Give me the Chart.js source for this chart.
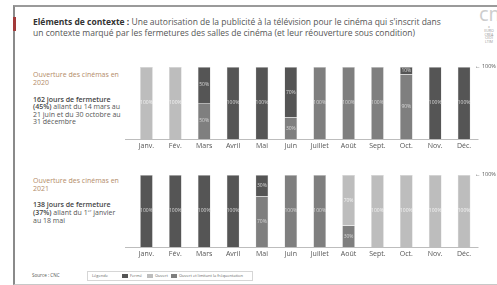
<!DOCTYPE html>
<html>
<head>
<meta charset="utf-8">
<script src="https://cdn.jsdelivr.net/npm/chart.js@4"></script>
<style>
  body { margin: 0; background: #fff; font-family: "Open Sans", sans-serif; }
  #page { position: relative; width: 497px; height: 285px; overflow: hidden; }
  .frame { position: absolute; left: 13px; top: 5px; width: 490px; height: 277px;
           border-left: 2px solid #8a8a8a; border-top: 2px solid #9a9a9a; border-bottom: 1px solid #c8c8c8; }
  .redmark { position: absolute; left: 13px; top: 17px; width: 3px; height: 14px; background: #a33a3a; }
  .title { position: absolute; left: 33px; top: 16px; width: 414px; font-size: 8.5px; line-height: 11px; color: #555; }
  .title b { color: #333; }
  .side { position: absolute; left: 33px; width: 110px; font-size: 7px; color: #555; white-space: nowrap; }
  .tan { color: #b38c68; }
  .side b { color: #444; font-weight: 600; }
  .wrap { position: absolute; }
  .mark { position: absolute; left: 475px; font-size: 5.5px; color: #555; white-space: nowrap; }
  .logo { position: absolute; left: 479px; top: 3px; color: #cdcdcd; font-size: 20px; line-height: 22px; }
  .logo small { position: absolute; left: 1px; top: 22px; width: 18px; font-size: 3.6px; line-height: 3.8px; color: #999; text-align: center; }
  .source { position: absolute; left: 32px; top: 272px; font-size: 4.6px; color: #555; }
  .legend { position: absolute; left: 87px; top: 271px; width: 164px; height: 8px; border: 1px solid #d6d6d6; }
  .legend span { position: absolute; top: 0; font-size: 4px; line-height: 8px; color: #666; white-space: nowrap; }
  .legend i { position: absolute; top: 2px; width: 6px; height: 4px; }
</style>
</head>
<body>
<div id="page">
  <div class="frame"></div>
  <div class="redmark"></div>
  <div class="title"><b>Eléments de contexte :</b> Une autorisation de la publicité à la télévision pour le cinéma qui s'inscrit dans un contexte marqué par les fermetures des salles de cinéma (et leur réouverture sous condition)</div>
  <div class="logo">cm<small>x<br>EURO<br>CRÉA<br>CÉDI<br>LTIM</small></div>

  <div class="side tan" style="top:71px;line-height:8px">Ouverture des cinémas en<br>2020</div>
  <div class="side" style="top:95.5px;line-height:7.6px"><b>162 jours de fermeture<br>(45%)</b> allant du 14 mars au<br>21 juin et du 30 octobre au<br>31 décembre</div>
  <div class="side tan" style="top:176.5px;line-height:8.6px">Ouverture des cinémas en<br>2021</div>
  <div class="side" style="top:201px;line-height:8px"><b>138 jours de fermeture<br>(37%)</b> allant du 1<sup style="font-size:4px;line-height:0">er</sup> janvier<br>au 18 mai</div>

  <div class="wrap" style="left:120px;top:60px;width:365px;height:94px"><canvas id="c2020"></canvas></div>
  <div class="wrap" style="left:120px;top:168px;width:365px;height:94px"><canvas id="c2021"></canvas></div>
  <div class="mark" style="top:62px">&larr; 100%</div>
  <div class="mark" style="top:170px">&larr; 100%</div>

  <div class="source">Source : CNC</div>
  <div class="legend">
    <span style="left:4px">Légende</span>
    <i style="left:34px;background:#555"></i><span style="left:42px">Fermé</span>
    <i style="left:59px;background:#bdbdbd"></i><span style="left:67px">Ouvert</span>
    <i style="left:83px;background:#7f7f7f"></i><span style="left:91px">Ouvert et limitant la fréquentation</span>
  </div>
</div>

<script>
const months = ['Janv.', 'Fév.', 'Mars', 'Avril', 'Mai', 'Juin', 'Juillet', 'Août', 'Sept.', 'Oct.', 'Nov.', 'Déc.'];

// part du mois (%) selon le statut des salles, 2020
const limite2020 = [0, 0, 50, 0, 0, 30, 100, 100, 100, 90, 0, 0];
const ferme2020  = [0, 0, 50, 100, 100, 70, 0, 0, 0, 10, 100, 100];
const ouvert2020 = [100, 100, 0, 0, 0, 0, 0, 0, 0, 0, 0, 0];

// 2021
const limite2021 = [0, 0, 0, 0, 70, 100, 100, 30, 0, 0, 0, 0];
const ferme2021  = [100, 100, 100, 100, 30, 0, 0, 0, 0, 0, 0, 0];
const ouvert2021 = [0, 0, 0, 0, 0, 0, 0, 70, 100, 100, 100, 100];

const colLimite = '#7f7f7f';
const colFerme = '#555555';
const colOuvert = '#bdbdbd';

// ecrit les % au milieu de chaque segment
const segLabels = {
    id: 'segLabels',
    afterDatasetsDraw(chart) {
        const c = chart.ctx;
        c.save();
        c.font = '5px "Open Sans"';
        c.textAlign = 'center';
        c.textBaseline = 'middle';
        chart.data.datasets.forEach((ds, i) => {
            c.fillStyle = i == 2 ? '#f4f4f4' : '#d8d8d8';
            chart.getDatasetMeta(i).data.forEach((bar, j) => {
                const v = ds.data[j];
                if (!v) return;
                c.fillText(v + '%', bar.x, (bar.y + bar.base) / 2);
            });
        });
        c.restore();
    }
};

// ligne de base un peu plus longue que la zone des barres
const baseLine = {
    id: 'baseLine',
    afterDraw(chart) {
        const a = chart.chartArea;
        const c = chart.ctx;
        c.save();
        c.strokeStyle = '#bdbdbd';
        c.lineWidth = 1;
        c.beginPath();
        c.moveTo(a.left - 7, a.bottom + 0.5);
        c.lineTo(a.right, a.bottom + 0.5);
        c.stroke();
        c.restore();
    }
};

function buildChart(id, limite, ferme, ouvert) {
    const ds = (data, color) => ({
        data: data,
        backgroundColor: color,
        borderColor: '#d4d4d4',
        borderWidth: 0.5,
        categoryPercentage: 1,
        barPercentage: 0.44,
    });
    new Chart(document.getElementById(id), {
        type: 'bar',
        data: {
            labels: months,
            datasets: [ds(limite, colLimite), ds(ferme, colFerme), ds(ouvert, colOuvert)]
        },
        options: {
            maintainAspectRatio: false,
            animation: false,
            events: [],
            layout: { padding: { left: 12, right: 6.5, top: 7, bottom: 0 } },
            plugins: { legend: { display: false }, tooltip: { enabled: false } },
            scales: {
                x: {
                    stacked: true,
                    grid: { display: false, drawTicks: false },
                    border: { display: false },
                    ticks: { color: '#555', font: { family: 'Open Sans', size: 7 }, padding: 3, maxRotation: 0 },
                    afterFit: s => { s.height = 15; }
                },
                y: { stacked: true, display: false, min: 0, max: 100 }
            }
        },
        plugins: [segLabels, baseLine]
    });
}

buildChart('c2020', limite2020, ferme2020, ouvert2020);
buildChart('c2021', limite2021, ferme2021, ouvert2021);
</script>
</body>
</html>
